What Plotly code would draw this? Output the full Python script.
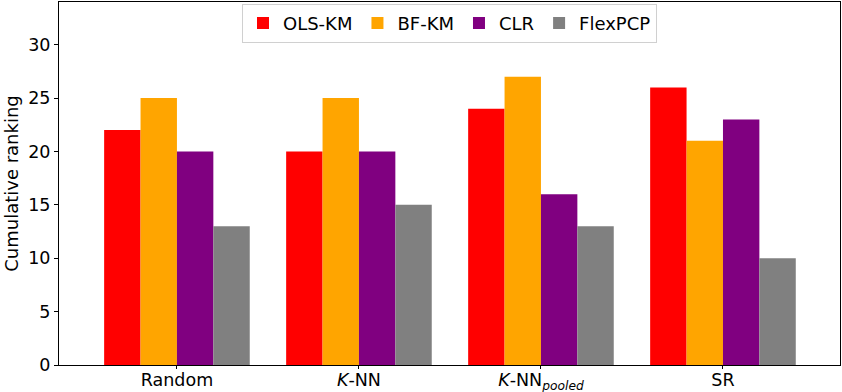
import plotly.graph_objects as go

categories = ["Random", "<i>K</i>-NN", "<i>K</i>-NN<sub><i>pooled</i></sub>", "SR"]
series_names = ["OLS-KM", "BF-KM", "CLR", "FlexPCP"]
ols_km = [22, 20, 24, 26]
bf_km = [25, 25, 27, 21]
clr = [20, 20, 16, 23]
flexpcp = [13, 15, 13, 10]
colors = ["#ff0000", "#ffa500", "#800080", "#808080"]

x = list(range(len(categories)))
fig = go.Figure()
for name, vals, col in zip(series_names, [ols_km, bf_km, clr, flexpcp], colors):
    fig.add_trace(go.Bar(x=x, y=vals, name=name, marker=dict(color=col, line=dict(width=0))))

font = dict(family="DejaVu Sans", size=17.5, color="black")
fig.update_layout(
    width=842, height=392,
    margin=dict(l=59, r=2, t=2, b=27),
    plot_bgcolor="white", paper_bgcolor="white",
    barmode="group", bargap=0.2, bargroupgap=0,
    font=font,
    showlegend=True,
    legend=dict(orientation="h", x=0.5, xanchor="center", y=0.995, yanchor="top",
                bordercolor="#d0d0d0", borderwidth=1, bgcolor="rgba(255,255,255,0.8)",
                font=dict(family="DejaVu Sans", size=18, color="black"), itemwidth=30,
                tracegroupgap=0),
    xaxis=dict(range=[-0.648, 3.643], tickmode="array", tickvals=x, ticktext=categories,
               showline=True, linecolor="black", linewidth=1, mirror=True,
               ticks="outside", ticklen=3, tickcolor="black", showgrid=False, zeroline=False,
               tickfont=font, automargin=False, ticklabelstandoff=-4),
    yaxis=dict(range=[0, 34], tickvals=[0, 5, 10, 15, 20, 25, 30],
               showline=True, linecolor="black", linewidth=1, mirror=True,
               ticks="outside", ticklen=4, tickcolor="black", showgrid=False, zeroline=False,
               title=dict(text="Cumulative ranking", font=dict(family="DejaVu Sans", size=18, color="black"), standoff=4),
               tickfont=font, automargin=False),
)
fig.write_html("out.html", config={"displayModeBar": False},
               post_script="document.body.style.margin='0px';document.body.style.overflow='hidden';")
